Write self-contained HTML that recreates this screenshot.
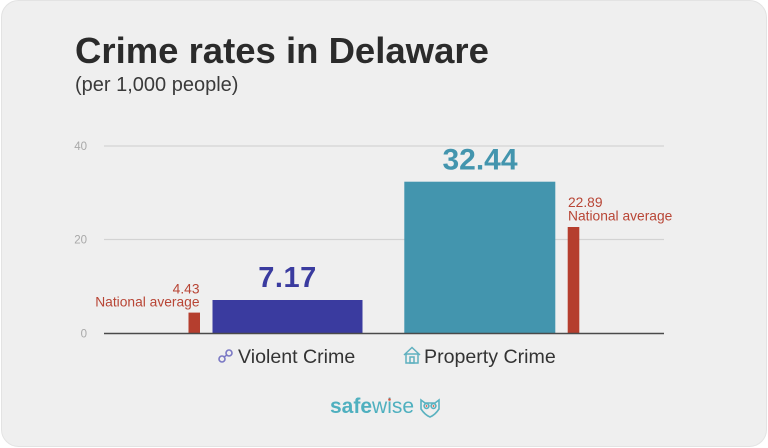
<!DOCTYPE html>
<html><head><meta charset="utf-8"><style>
html,body{margin:0;padding:0;background:#fff;}
svg{display:block;}
text{font-family:"Liberation Sans",sans-serif;}
</style></head><body>
<svg width="768" height="448" viewBox="0 0 768 448" xmlns="http://www.w3.org/2000/svg">
<rect x="0" y="0" width="768" height="448" fill="#ffffff"/>
<rect x="1.5" y="0.5" width="765" height="446" rx="17" ry="17" fill="#efefef" stroke="#e3e3e3" stroke-width="1"/>
<text x="75" y="63" font-size="36.5" font-weight="bold" fill="#2b2b2b">Crime rates in Delaware</text>
<text x="75" y="91" font-size="20" fill="#3a3a3a">(per 1,000 people)</text>
<!-- grid -->
<line x1="104" y1="146" x2="664" y2="146" stroke="#d3d3d3" stroke-width="1.3"/>
<line x1="104" y1="239.5" x2="664" y2="239.5" stroke="#d3d3d3" stroke-width="1.3"/>
<text x="87" y="150" font-size="11.5" fill="#a8a8a8" text-anchor="end">40</text>
<text x="87" y="243.5" font-size="11.5" fill="#a8a8a8" text-anchor="end">20</text>
<text x="87" y="337.5" font-size="11.5" fill="#a8a8a8" text-anchor="end">0</text>
<!-- bars -->
<rect x="188.5" y="312.6" width="11.5" height="20.7" fill="#b53e2e"/>
<rect x="212.5" y="300" width="150" height="33.3" fill="#3a3b9f"/>
<rect x="404.3" y="181.7" width="151" height="151.6" fill="#4395ae"/>
<rect x="567.7" y="227" width="11.6" height="106.3" fill="#b53e2e"/>
<line x1="104" y1="333.5" x2="664" y2="333.5" stroke="#4a4a4a" stroke-width="1.5"/>
<!-- labels -->
<text x="287.5" y="287" font-size="29" font-weight="bold" fill="#3a3b9f" text-anchor="middle" letter-spacing="0.5">7.17</text>
<text x="480" y="169.5" font-size="30" font-weight="bold" fill="#4395ae" text-anchor="middle">32.44</text>
<text x="199.5" y="293.5" font-size="13.8" fill="#b84535" text-anchor="end">4.43</text>
<text x="199.5" y="306.5" font-size="13.8" fill="#b84535" text-anchor="end">National average</text>
<text x="568" y="207" font-size="13.8" fill="#b84535">22.89</text>
<text x="568" y="220.5" font-size="13.8" fill="#b84535">National average</text>
<!-- category labels -->
<g fill="none" stroke="#7a78c4" stroke-width="1.6">
<circle cx="222" cy="359" r="3"/>
<circle cx="229" cy="353" r="3"/>
<line x1="224" y1="357" x2="227" y2="355"/>
</g>
<text x="238" y="363" font-size="19.6" fill="#333">Violent Crime</text>
<g fill="none" stroke="#5fb0bf" stroke-width="1.5">
<path d="M404 355 L412 347.5 L420 355"/>
<rect x="406" y="354" width="12" height="9"/>
<rect x="410" y="357" width="4" height="6"/>
</g>
<text x="424" y="363" font-size="19.6" fill="#333">Property Crime</text>
<!-- logo -->
<text x="330" y="413" font-size="21" font-weight="bold" fill="#4fb0bf">safe<tspan font-weight="normal">wise</tspan></text>
<circle cx="389.5" cy="399.5" r="1.3" fill="#d2553f"/>
<g fill="none" stroke="#5ab2c0" stroke-width="1.6">
<path d="M421 400 L425 403 L435 403 L439 400 L439 409 Q435 415 430 417 Q425 415 421 409 Z"/>
<circle cx="426.5" cy="406" r="2.4"/>
<circle cx="433.5" cy="406" r="2.4"/>
</g>
<circle cx="426.5" cy="406" r="0.9" fill="#d2553f"/>
<circle cx="433.5" cy="406" r="0.9" fill="#d2553f"/>
</svg>
</body></html>
